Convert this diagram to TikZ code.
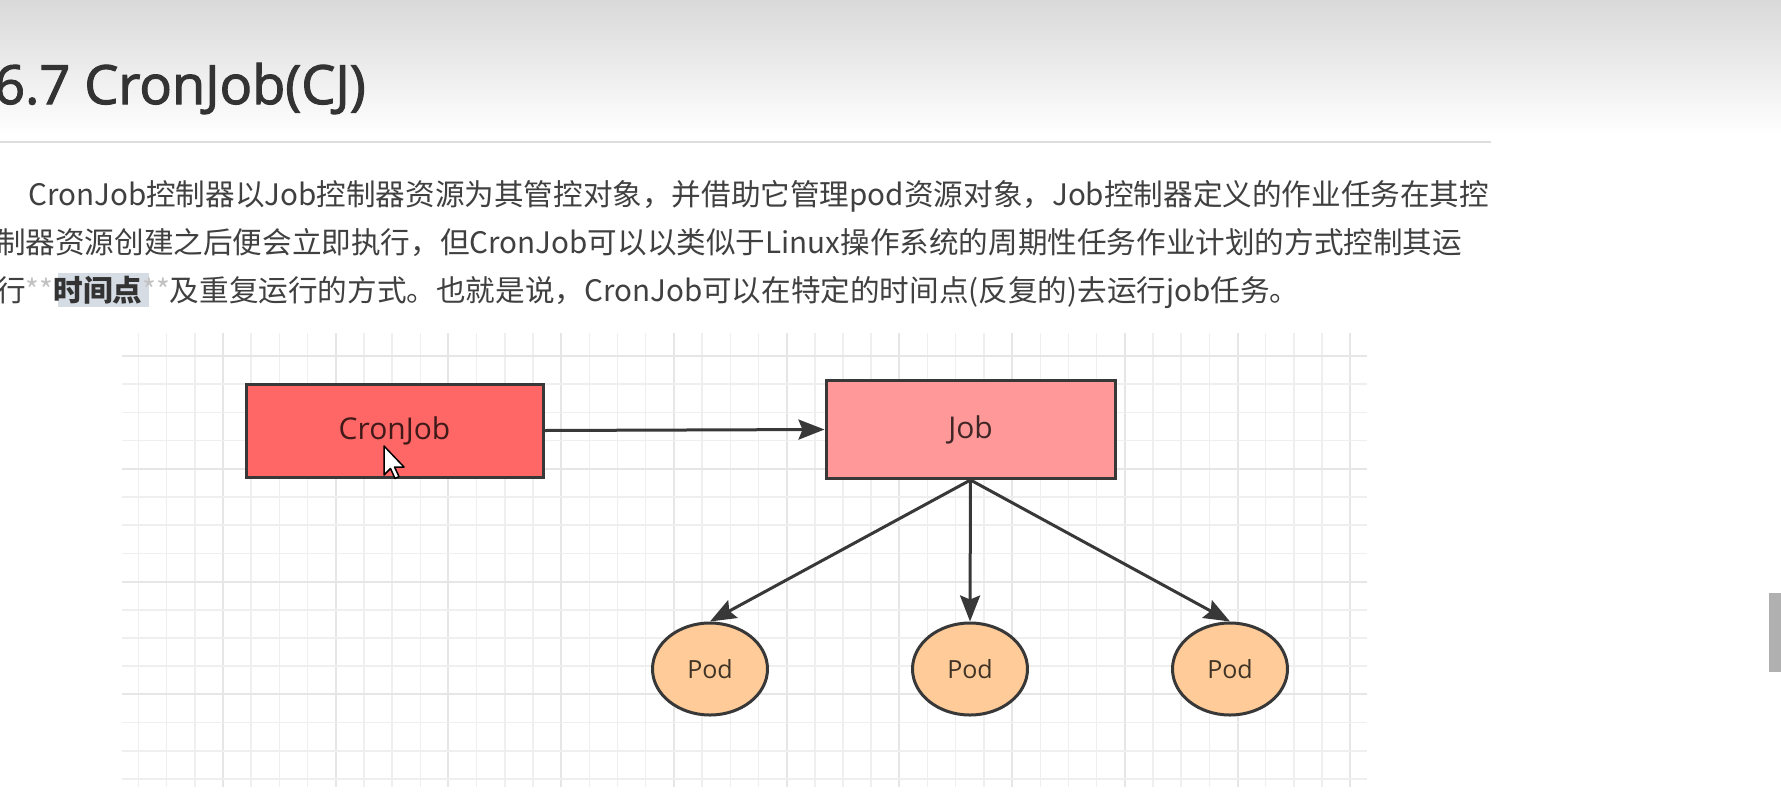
\documentclass[tikz,border=0pt]{standalone}
\usepackage{fontspec}
\setmainfont{Open Sans}
\newfontfamily\cjk{Noto Sans CJK SC}
\newfontfamily\titlefont[FakeBold=2]{Open Sans}
\usetikzlibrary{arrows.meta,shapes.geometric}
\definecolor{cjred}{HTML}{FF6666}
\definecolor{jobred}{HTML}{FF9999}
\definecolor{podor}{HTML}{FFCC99}
\definecolor{edgecol}{HTML}{383838}
\definecolor{gridminor}{HTML}{EFEFEF}
\definecolor{gridmajor}{HTML}{E6E6E6}
\definecolor{bodytext}{HTML}{404040}
\definecolor{titlegray}{HTML}{333333}
\definecolor{topgray}{HTML}{D9D9D9}
\definecolor{rulegray}{HTML}{DDDDDD}
\definecolor{stargray}{HTML}{C2C2C2}
\definecolor{hilite}{HTML}{D6DCE4}
\definecolor{barcol}{HTML}{B0B0B0}
\tikzset{
  bodyline/.style={anchor=base west, inner sep=0pt, text=bodytext, font=\cjk\fontsize{29.6}{36}\selectfont},
  boxnode/.style={draw=edgecol, line width=3pt, rectangle, inner sep=0pt, font=\fontsize{30}{34}\selectfont},
  podnode/.style={draw=edgecol, line width=3pt, ellipse, fill=podor, inner sep=0pt, minimum width=115pt, minimum height=92pt, text=podor!25!black, font=\fontsize{25}{28}\selectfont},
  conn/.style={draw=edgecol, line width=3pt, -{Stealth[length=26pt,width=20pt,inset=4pt]}},
}
\begin{document}
\begin{tikzpicture}[x=1pt,y=-1pt]
\useasboundingbox (0,0) rectangle (1781,801);
\clip (0,0) rectangle (1781,801);
\fill[white] (0,0) rectangle (1781,801);
\shade[top color=topgray, bottom color=white] (0,0) rectangle (1781,135);
% title and rule
\node[anchor=base west, inner sep=0pt, font=\titlefont\fontsize{54}{60}\selectfont, text=titlegray] (title) at (-6,104) {6.7 CronJob(CJ)};
\draw[rulegray, line width=2pt] (0,142) -- (1491,142);
% paragraph
\node[bodyline] (l1) at (28,205) {CronJob控制器以Job控制器资源为其管控对象，并借助它管理pod资源对象，Job控制器定义的作业任务在其控};
\node[bodyline] (l2) at (-4,253) {制器资源创建之后便会立即执行，但CronJob可以以类似于Linux操作系统的周期性任务作业计划的方式控制其运};
\fill[hilite] (58,273) rectangle (149,307);
\node[bodyline] (l3) at (-4,301) {行\textcolor{stargray}{**}\textbf{\textcolor{titlegray}{时间点}}\textcolor{stargray}{**}及重复运行的方式。也就是说，CronJob可以在特定的时间点(反复的)去运行job任务。};
% grid
\foreach \k in {0,...,43}{
  \pgfmathtruncatemacro{\m}{mod(\k,4)}
  \ifnum\m=3
    \draw[gridmajor, line width=2pt] ({138.5+28.18*\k},333) -- ({138.5+28.18*\k},787);
  \else
    \draw[gridminor, line width=1.5pt] ({138.5+28.18*\k},333) -- ({138.5+28.18*\k},787);
  \fi
}
\foreach \k in {0,...,15}{
  \pgfmathtruncatemacro{\m}{mod(\k,4)}
  \ifnum\m=0
    \draw[gridmajor, line width=2pt] (122,{356+28.2*\k}) -- (1367,{356+28.2*\k});
  \else
    \draw[gridminor, line width=1.5pt] (122,{356+28.2*\k}) -- (1367,{356+28.2*\k});
  \fi
}
% nodes
\node[boxnode, fill=cjred, minimum width=297pt, minimum height=93pt, text=cjred!25!black] (cron) at (394.5,430.5) {CronJob};
\node[boxnode, fill=jobred, minimum width=289pt, minimum height=98pt, text=jobred!25!black] (job) at (970.5,429.5) {Job};
\node[podnode] (pod1) at (710,669) {Pod};
\node[podnode] (pod2) at (970,669) {Pod};
\node[podnode] (pod3) at (1230,669) {Pod};
% connectors
\draw[conn] (cron.east) -- (job.west);
\draw[conn] (job.south) -- (pod1.north);
\draw[conn] (job.south) -- (pod2.north);
\draw[conn] (job.south) -- (pod3.north);
% mouse cursor
\filldraw[fill=white, draw=black, line width=1.5pt, line join=round] (384,446) -- ++(0,29) -- ++(6.5,-6.5) -- ++(4.5,10) -- ++(4,-2) -- ++(-4.5,-9.5) -- ++(9.5,0) -- cycle;
% scrollbar piece at the right edge
\fill[barcol] (1769,593) rectangle (1781,672);
\end{tikzpicture}
\end{document}
